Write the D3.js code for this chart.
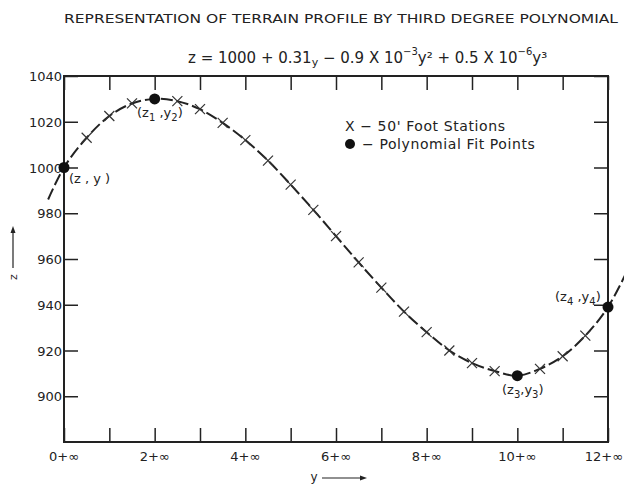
<!DOCTYPE html>
<html>
<head>
<meta charset="utf-8">
<script src="https://cdn.jsdelivr.net/npm/d3@7"></script>
<style>
  body { margin: 0; background: #fff; }
  svg text { font-family: "DejaVu Sans", sans-serif; fill: #222; }
</style>
</head>
<body>
<div id="chart"></div>
<script>
// 50' stations (feet along profile) and elevations
var stationFeet = [50, 100, 150, 250, 300, 350, 400, 450, 500, 550, 600, 650,
                   700, 750, 800, 850, 900, 950, 1050, 1100, 1150];
var stationElev = [1013, 1022.5, 1028, 1029, 1025.5, 1019.5, 1012, 1003, 992.5, 981.5, 970, 958.5,
                   947.5, 937, 928, 920, 914.5, 911, 912, 917.5, 926.5];
// polynomial fit points
var fitFeet = [0, 200, 1000, 1200];
var fitElev = [1000, 1030, 909, 939];
// dashed extension beyond the fit range
var extFeet = [-35, 1250];
var extElev = [986, 958];

var xTicks = [0, 200, 400, 600, 800, 1000, 1200];
var xTickLabels = ["0+\u221e", "2+\u221e", "4+\u221e", "6+\u221e", "8+\u221e", "10+\u221e", "12+\u221e"];
var xMinorTicks = [100, 300, 500, 700, 900, 1100];
var yTicks = [900, 920, 940, 960, 980, 1000, 1020, 1040];

(function() {
  var width = 624, height = 484;
  var mLeft = 64, mRight = 608, mTop = 76, mBottom = 442;

  var svg = d3.select("#chart").append("svg")
    .attr("width", width)
    .attr("height", height);

  var x = d3.scaleLinear().domain([0, 1200]).range([mLeft, mRight]);
  var y = d3.scaleLinear().domain([880, 1040]).range([mBottom, mTop]);

  // titles
  svg.append("text")
    .attr("x", 64).attr("y", 23)
    .attr("textLength", 554)
    .attr("lengthAdjust", "spacingAndGlyphs")
    .style("font-size", "13px")
    .text("REPRESENTATION OF TERRAIN PROFILE BY THIRD DEGREE POLYNOMIAL");

  var eq = svg.append("text")
    .attr("x", 188).attr("y", 63)
    .style("font-size", "15px");
  eq.append("tspan").text("z = 1000 + 0.31");
  eq.append("tspan").attr("dy", 3).style("font-size", "11px").text("y");
  eq.append("tspan").attr("dy", -3).text(" \u2212 0.9 X 10");
  eq.append("tspan").attr("dy", -8).style("font-size", "10px").text("\u22123");
  eq.append("tspan").attr("dy", 8).text("y\u00b2 + 0.5 X 10");
  eq.append("tspan").attr("dy", -8).style("font-size", "10px").text("\u22126");
  eq.append("tspan").attr("dy", 8).text("y\u00b3");

  // frame
  svg.append("rect")
    .attr("x", mLeft).attr("y", mTop)
    .attr("width", mRight - mLeft).attr("height", mBottom - mTop)
    .attr("fill", "none").attr("stroke", "#222").attr("stroke-width", 2);

  // axes with inward ticks
  var allX = xTicks.concat(xMinorTicks);
  var yLeft = svg.append("g").attr("transform", "translate(" + mLeft + ",0)")
    .call(d3.axisRight(y).tickValues(yTicks).tickSize(14).tickFormat(""));
  var yRight = svg.append("g").attr("transform", "translate(" + mRight + ",0)")
    .call(d3.axisLeft(y).tickValues(yTicks).tickSize(14).tickFormat(""));
  var xBottom = svg.append("g").attr("transform", "translate(0," + mBottom + ")")
    .call(d3.axisTop(x).tickValues(allX).tickSize(14).tickFormat(""));
  var xTop = svg.append("g").attr("transform", "translate(0," + mTop + ")")
    .call(d3.axisBottom(x).tickValues(allX).tickSize(14).tickFormat(""));
  [yLeft, yRight, xBottom, xTop].forEach(function(g) {
    g.select(".domain").remove();
    g.selectAll("line").attr("stroke", "#222").attr("stroke-width", 1.5);
  });

  // tick labels
  svg.selectAll(".ylab").data(yTicks).enter().append("text")
    .attr("class", "ylab")
    .attr("x", mLeft - 2).attr("y", function(d) { return y(d) + 5; })
    .attr("text-anchor", "end")
    .style("font-size", "13px")
    .text(function(d) { return d; });

  svg.selectAll(".xlab").data(xTicks).enter().append("text")
    .attr("class", "xlab")
    .attr("x", function(d, i) { return i === xTicks.length - 1 ? width - 1 : x(d); })
    .attr("y", mBottom + 19)
    .attr("text-anchor", function(d, i) { return i === xTicks.length - 1 ? "end" : "middle"; })
    .style("font-size", "13px")
    .text(function(d, i) { return xTickLabels[i]; });

  // axis titles with arrows
  svg.append("text")
    .attr("transform", "translate(17,277) rotate(-90)")
    .attr("text-anchor", "middle")
    .style("font-size", "11px")
    .text("z");
  svg.append("line").attr("x1", 13).attr("y1", 268).attr("x2", 13).attr("y2", 230)
    .attr("stroke", "#222").attr("stroke-width", 1.2);
  svg.append("path").attr("d", "M13,226 L10.5,233 L15.5,233 Z").attr("fill", "#222");

  svg.append("text")
    .attr("x", 314).attr("y", 481)
    .attr("text-anchor", "middle")
    .style("font-size", "12px")
    .text("y");
  svg.append("line").attr("x1", 322).attr("y1", 478).attr("x2", 362).attr("y2", 478)
    .attr("stroke", "#222").attr("stroke-width", 1.2);
  svg.append("path").attr("d", "M367,478 L360,475.5 L360,480.5 Z").attr("fill", "#222");

  // dashed profile curve through all points
  var pts = [];
  stationFeet.forEach(function(f, i) { pts.push([f, stationElev[i]]); });
  fitFeet.forEach(function(f, i) { pts.push([f, fitElev[i]]); });
  extFeet.forEach(function(f, i) { pts.push([f, extElev[i]]); });
  pts.sort(function(a, b) { return a[0] - b[0]; });

  var line = d3.line()
    .x(function(d) { return x(d[0]); })
    .y(function(d) { return y(d[1]); })
    .curve(d3.curveCatmullRom);

  svg.append("path")
    .datum(pts)
    .attr("d", line)
    .attr("fill", "none")
    .attr("stroke", "#222")
    .attr("stroke-width", 2)
    .attr("stroke-dasharray", "12,4");

  // X marks at 50' stations
  var s = 5;
  var marks = svg.selectAll(".st").data(stationFeet).enter().append("g")
    .attr("class", "st")
    .attr("transform", function(d, i) { return "translate(" + x(d) + "," + y(stationElev[i]) + ")"; });
  marks.append("line").attr("x1", -s).attr("y1", -s).attr("x2", s).attr("y2", s);
  marks.append("line").attr("x1", -s).attr("y1", s).attr("x2", s).attr("y2", -s);
  marks.selectAll("line").attr("stroke", "#333").attr("stroke-width", 1.2);

  // fit points
  svg.selectAll(".fit").data(fitFeet).enter().append("circle")
    .attr("class", "fit")
    .attr("cx", function(d) { return x(d); })
    .attr("cy", function(d, i) { return y(fitElev[i]); })
    .attr("r", 5.5)
    .attr("fill", "#111");

  // point labels: parts are [text, isSubscript]
  function pointLabel(px, py, parts) {
    var t = svg.append("text").attr("x", px).attr("y", py).style("font-size", "13px");
    var shift = 0;
    parts.forEach(function(p) {
      var want = p[1] ? 4 : 0;
      t.append("tspan")
        .attr("dy", want - shift)
        .style("font-size", p[1] ? "10px" : "13px")
        .text(p[0]);
      shift = want;
    });
  }
  pointLabel(69, 183, [["(z  , y  )"]]);
  pointLabel(137, 117, [["(z"], ["1", true], [" ,y"], ["2", true], [")"]]);
  pointLabel(502, 394, [["(z"], ["3", true], [",y"], ["3", true], [")"]]);
  pointLabel(555, 301, [["(z"], ["4", true], [" ,y"], ["4", true], [")"]]);

  // legend
  svg.append("text").attr("x", 345).attr("y", 131)
    .style("font-size", "14px").style("letter-spacing", "0.6px")
    .text("X  \u2212  50' Foot Stations");
  svg.append("circle").attr("cx", 350).attr("cy", 144).attr("r", 5).attr("fill", "#111");
  svg.append("text").attr("x", 362).attr("y", 149)
    .style("font-size", "14px").style("letter-spacing", "0.6px")
    .text("\u2212  Polynomial Fit Points");
})();
</script>
</body>
</html>
